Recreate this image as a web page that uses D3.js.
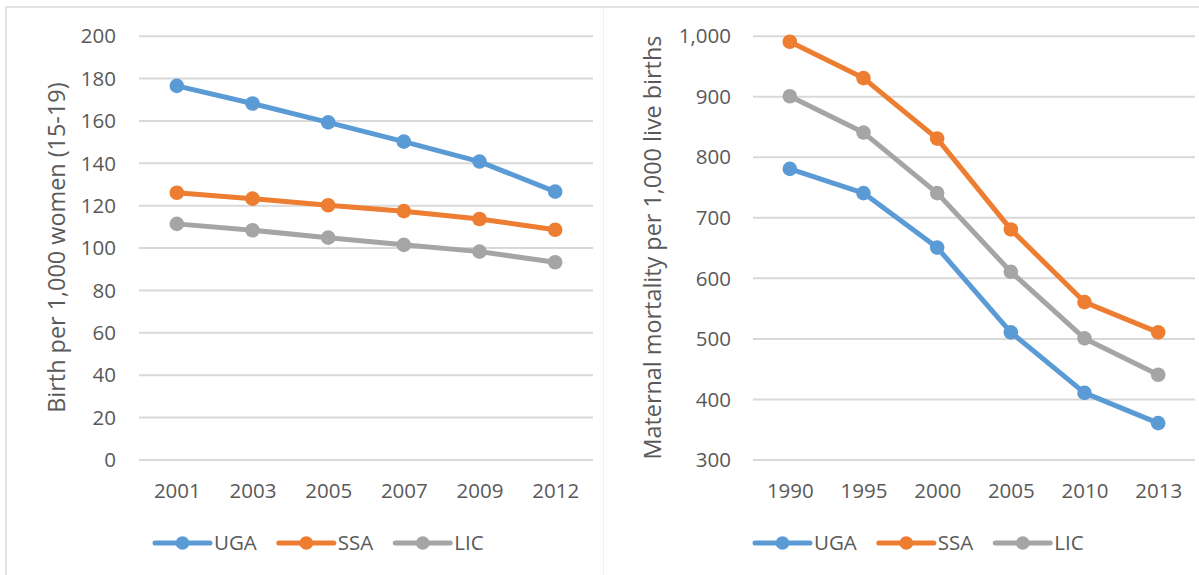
<!DOCTYPE html>
<html>
<head>
<meta charset="utf-8">
<script src="https://cdn.jsdelivr.net/npm/d3@7"></script>
<style>
  html, body { margin: 0; padding: 0; background: #fff; }
  svg { display: block; font-family: "Open Sans", sans-serif; }
</style>
</head>
<body>
<svg id="chart" width="1199" height="575"></svg>
<script>
// Adolescent fertility (births per 1,000 women aged 15-19)
const birthYears = ["2001", "2003", "2005", "2007", "2009", "2012"];
const birthUGA = [176.3, 168, 159.1, 150, 140.6, 126.4];
const birthSSA = [125.9, 123.1, 120, 117.2, 113.5, 108.4];
const birthLIC = [111.2, 108.2, 104.7, 101.3, 98.1, 93.1];
const birthTicks = [0, 20, 40, 60, 80, 100, 120, 140, 160, 180, 200];

// Maternal mortality (per 1,000 live births)
const mortYears = ["1990", "1995", "2000", "2005", "2010", "2013"];
const mortUGA = [780, 740, 650, 510, 410, 360];
const mortSSA = [990, 930, 830, 680, 560, 510];
const mortLIC = [900, 840, 740, 610, 500, 440];
const mortTicks = [300, 400, 500, 600, 700, 800, 900, 1000];

const seriesNames = ["UGA", "SSA", "LIC"];
const seriesColors = ["#5B9BD5", "#ED7D31", "#A5A5A5"];

const svg = d3.select("#chart");
const textColor = "#595959";
const gridColor = "#D9D9D9";

// Panel frames
svg.append("line").attr("x1", 6).attr("x2", 1199).attr("y1", 7).attr("y2", 7)
  .attr("stroke", "#D9D9D9").attr("stroke-width", 1.5);
svg.append("line").attr("x1", 6).attr("x2", 6).attr("y1", 7).attr("y2", 575)
  .attr("stroke", "#D9D9D9").attr("stroke-width", 1.5);
svg.append("line").attr("x1", 603.5).attr("x2", 603.5).attr("y1", 7).attr("y2", 575)
  .attr("stroke", "#F0F0F0").attr("stroke-width", 1);

function drawPanel(cfg) {
  const g = svg.append("g");
  const x = d3.scalePoint().domain(cfg.cats).range([cfg.x0, cfg.x1]).padding(0.5);
  const y = d3.scaleLinear().domain(cfg.domain).range([459.5, 35.7]);

  // Gridlines + y tick labels
  const yAxis = d3.axisLeft(y).tickValues(cfg.ticks).tickSize(-(cfg.x1 - cfg.x0))
    .tickPadding(0).tickFormat(cfg.fmt);
  const ya = g.append("g").attr("transform", `translate(${cfg.x0},0)`).call(yAxis);
  ya.select(".domain").remove();
  ya.selectAll(".tick line").attr("stroke", gridColor).attr("stroke-width", 2);
  ya.selectAll(".tick text")
    .attr("x", cfg.tickX - cfg.x0)
    .attr("dy", "0.35em")
    .attr("fill", textColor)
    .style("font-size", "20.5px")
    .style("font-family", "'Open Sans', sans-serif");

  // x tick labels
  const xAxis = d3.axisBottom(x).tickSize(0).tickPadding(0);
  const xa = g.append("g").attr("transform", `translate(0,${491})`).call(xAxis);
  xa.select(".domain").remove();
  xa.selectAll(".tick text")
    .attr("y", 0).attr("dy", "0.35em")
    .attr("fill", textColor)
    .style("font-size", "20.5px")
    .style("font-family", "'Open Sans', sans-serif");

  // Axis title
  g.append("text")
    .attr("transform", `translate(${cfg.titleX},${247.6}) rotate(-90)`)
    .attr("text-anchor", "middle")
    .attr("dy", "0.35em")
    .attr("fill", textColor)
    .style("font-size", "23.4px")
    .text(cfg.title);

  // Series lines and markers
  const line = d3.line().x((d, i) => x(cfg.cats[i])).y(d => y(d));
  cfg.series.forEach((vals, si) => {
    g.append("path").datum(vals)
      .attr("d", line)
      .attr("fill", "none")
      .attr("stroke", seriesColors[si])
      .attr("stroke-width", 5)
      .attr("stroke-linejoin", "round")
      .attr("stroke-linecap", "round");
    g.selectAll(null).data(vals).enter().append("circle")
      .attr("cx", (d, i) => x(cfg.cats[i]))
      .attr("cy", d => y(d))
      .attr("r", 7.3)
      .attr("fill", seriesColors[si]);
  });

  // Legend
  const lg = g.append("g").attr("transform", `translate(${cfg.legendX},543)`);
  let cx = 0;
  seriesNames.forEach((name, si) => {
    const item = lg.append("g").attr("transform", `translate(${cx},0)`);
    item.append("line").attr("x1", 0).attr("x2", 55).attr("y1", 0).attr("y2", 0)
      .attr("stroke", seriesColors[si]).attr("stroke-width", 5)
      .attr("stroke-linecap", "round");
    item.append("circle").attr("cx", 27.5).attr("cy", 0).attr("r", 6.8)
      .attr("fill", seriesColors[si]);
    const t = item.append("text").attr("x", 59).attr("dy", "0.35em")
      .attr("fill", textColor).style("font-size", "20.5px").text(name);
    cx += 59 + t.node().getComputedTextLength() + 22;
  });
}

drawPanel({
  cats: birthYears, x0: 139, x1: 593, domain: [0, 200], ticks: birthTicks,
  fmt: d3.format("d"), tickX: 116, titleX: 57,
  title: "Birth per 1,000 women (15-19)",
  series: [birthUGA, birthSSA, birthLIC], legendX: 155
});

drawPanel({
  cats: mortYears, x0: 753, x1: 1195, domain: [300, 1000], ticks: mortTicks,
  fmt: d3.format(","), tickX: 731, titleX: 653,
  title: "Maternal mortality per 1,000 live births",
  series: [mortUGA, mortSSA, mortLIC], legendX: 755
});
</script>
</body>
</html>
